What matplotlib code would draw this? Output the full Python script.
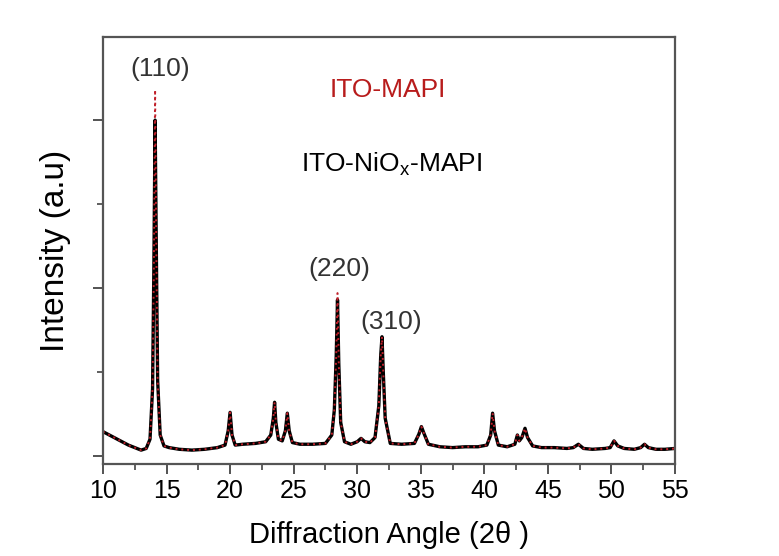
import matplotlib
matplotlib.use("Agg")

import matplotlib.pyplot as plt
from matplotlib.ticker import MultipleLocator

plt.rcParams["font.family"] = ["Liberation Sans", "DejaVu Sans"]
plt.rcParams["mathtext.fontset"] = "custom"
plt.rcParams["mathtext.rm"] = "Liberation Sans"

# XRD trace, 2-theta in degrees
two_theta = [10.0, 10.5, 11.0, 11.5, 12.0, 12.5, 13.0, 13.4, 13.7, 13.9,
             14.0, 14.1, 14.2, 14.3, 14.5, 14.8, 15.2, 16.0, 17.0, 18.0,
             19.0, 19.6, 19.85, 20.0, 20.15, 20.4, 21.0, 22.0, 22.8, 23.2,
             23.4, 23.5, 23.6, 23.8, 24.1, 24.35, 24.5, 24.65, 24.9, 25.5,
             26.5, 27.5, 28.0, 28.2, 28.35, 28.45, 28.55, 28.7, 29.0, 29.5,
             30.0, 30.3, 30.6, 31.0, 31.4, 31.7, 31.85, 31.95, 32.05, 32.2,
             32.6, 33.5, 34.5, 34.85, 35.05, 35.25, 35.6, 36.5, 37.5, 38.5,
             39.5, 40.2, 40.5, 40.65, 40.8, 41.1, 41.8, 42.4, 42.6, 42.75,
             42.95, 43.2, 43.4, 43.8, 44.5, 45.5, 46.5, 47.0, 47.4, 47.8,
             48.5, 49.5, 49.9, 50.2, 50.5, 51.0, 51.8, 52.3, 52.6, 52.9,
             53.5, 54.2, 55.0]

# ITO-NiOx-MAPI intensity (a.u.)
nio_mapi = [0.29, 0.25, 0.21, 0.17, 0.13, 0.10, 0.07, 0.09, 0.20, 0.80,
            2.20, 4.00, 2.40, 0.90, 0.25, 0.12, 0.10, 0.08, 0.07, 0.08,
            0.10, 0.13, 0.30, 0.52, 0.25, 0.13, 0.14, 0.15, 0.17, 0.25,
            0.45, 0.64, 0.40, 0.20, 0.18, 0.30, 0.51, 0.30, 0.16, 0.14,
            0.14, 0.15, 0.25, 0.55, 1.20, 1.86, 1.10, 0.40, 0.17, 0.14,
            0.17, 0.21, 0.17, 0.16, 0.22, 0.60, 1.20, 1.42, 1.00, 0.45,
            0.15, 0.14, 0.15, 0.26, 0.35, 0.27, 0.14, 0.11, 0.10, 0.11,
            0.11, 0.13, 0.25, 0.51, 0.30, 0.13, 0.11, 0.14, 0.25, 0.18,
            0.22, 0.33, 0.22, 0.12, 0.10, 0.10, 0.09, 0.10, 0.14, 0.09,
            0.08, 0.09, 0.10, 0.18, 0.12, 0.09, 0.08, 0.10, 0.14, 0.10,
            0.08, 0.08, 0.09]

# ITO-MAPI follows the same trace, only the two strongest reflections differ
mapi_tops = {14.1: 4.36, 28.45: 1.94}
mapi = [mapi_tops.get(t, v) for t, v in zip(two_theta, nio_mapi)]

# reflection labels: (text, 2-theta, height)
peak_labels = [("(110)", 14.5, 4.47), ("(220)", 28.6, 2.08), ("(310)", 32.7, 1.45)]

fig = plt.figure(figsize=(7.79, 5.56), dpi=100)
ax = fig.add_axes([0.1322, 0.1655, 0.7343, 0.768])

ax.plot(two_theta, nio_mapi, color="black", lw=2.4, solid_joinstyle="round")
ax.plot(two_theta, mapi, color="#c0202a", lw=1.4, ls=(0, (1, 2)))

for txt, x, y in peak_labels:
    ax.text(x, y, txt, ha="center", va="bottom", fontsize=19, color="#333333")

ax.text(32.4, 4.36, "ITO-MAPI", color="#b81c1c", fontsize=19,
        ha="center", va="center")
ax.text(32.7, 3.48, r"ITO-NiO$_\mathrm{x}$-MAPI", color="black", fontsize=19,
        ha="center", va="center")

ax.set_xlim(10, 55)
ax.set_ylim(-0.095, 4.99)
ax.xaxis.set_major_locator(MultipleLocator(5))
ax.xaxis.set_minor_locator(MultipleLocator(2.5))
ax.yaxis.set_major_locator(MultipleLocator(2))
ax.yaxis.set_minor_locator(MultipleLocator(1))
ax.tick_params(axis="both", which="major", length=7, width=1.3, color="#444444",
               labelsize=18, top=False, right=False)
ax.tick_params(axis="both", which="minor", length=4, width=1.2, color="#444444",
               top=False, right=False)
ax.tick_params(axis="y", which="both", labelleft=False)

for side in ax.spines.values():
    side.set_color("#555555")
    side.set_linewidth(1.6)

ax.set_xlabel("Diffraction Angle (2\u03b8 )", fontsize=21, labelpad=13)
ax.set_ylabel("Intensity (a.u)", fontsize=24, labelpad=16)

plt.savefig("out.png", dpi=100)
